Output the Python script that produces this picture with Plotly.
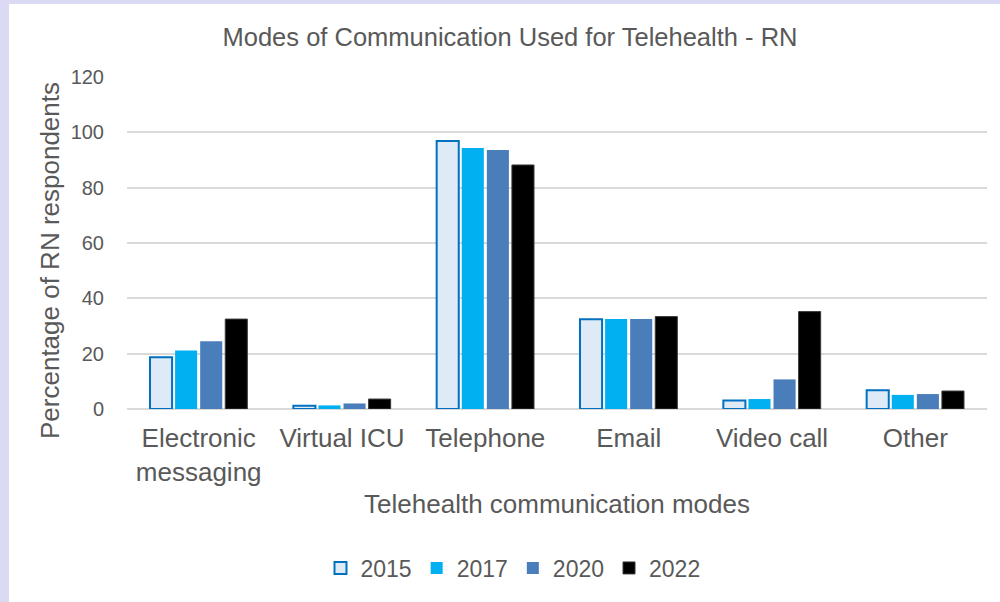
import plotly.graph_objects as go

modes = ["Electronic<br>messaging", "Virtual ICU", "Telephone", "Email", "Video call", "Other"]
years = ["2015", "2017", "2020", "2022"]

pct_2015 = [18.7, 1.2, 96.9, 32.4, 3.1, 6.8]
pct_2017 = [21.1, 1.3, 94.3, 32.5, 3.6, 5.1]
pct_2020 = [24.5, 2.0, 93.6, 32.5, 10.7, 5.4]
pct_2022 = [32.5, 3.6, 88.2, 33.4, 35.2, 6.5]

series = [pct_2015, pct_2017, pct_2020, pct_2022]
fills = ["#DEEBF7", "#00B0F0", "#4A7EBB", "#000000"]
edges = ["#0070C0", "#00B0F0", "#4A7EBB", "#3a3a3a"]
edge_w = [2, 0, 0, 1]

GREY = "#595959"
FONT = "Liberation Sans, Arial, sans-serif"

fig = go.Figure()
for yr, vals, fc, lc, lw in zip(years, series, fills, edges, edge_w):
    fig.add_trace(go.Bar(
        x=modes, y=vals, name=yr,
        marker=dict(color=fc, line=dict(color=lc, width=lw)),
    ))

# page: lavender edge around a white card
L, R, T, B = 127, 13, 77, 193
W, H = 1000, 602
pw, ph = W - L - R, H - T - B
fig.add_shape(type="rect", xref="paper", yref="paper", layer="below",
              x0=(9 - L) / pw, x1=(W + 5 - L) / pw,
              y0=(H - B - (H + 5)) / ph, y1=(H - B - 4) / ph,
              fillcolor="white", line_width=0)

# y-axis title sits a bit below the plot centre in the original
fig.add_annotation(text="Percentage of RN respondents", textangle=-90,
                   xref="paper", yref="paper", showarrow=False,
                   x=(50 - L) / pw, y=(H - B - 261) / ph,
                   xanchor="center", yanchor="middle",
                   font=dict(size=26, color=GREY))

fig.update_layout(
    width=W, height=H,
    margin=dict(l=L, r=R, t=T, b=B),
    paper_bgcolor="#DADAF4",
    plot_bgcolor="white",
    barmode="group", bargap=0.30, bargroupgap=0.12,
    font=dict(family=FONT, color=GREY),
    title=dict(text="Modes of Communication Used for Telehealth - RN",
               x=510 / W, xanchor="center", y=1 - 37 / H, yanchor="middle",
               font=dict(size=25.5, color=GREY)),
    legend=dict(orientation="h", x=(513 - L) / pw,
                xanchor="center", y=(H - B - 568) / ph, yanchor="middle",
                font=dict(size=23, color=GREY), traceorder="normal",
                itemwidth=30, bgcolor="rgba(0,0,0,0)"),
    showlegend=True,
)

fig.update_yaxes(range=[0, 120], dtick=20, showgrid=True, gridcolor="#D9D9D9", gridwidth=1.5,
                 zeroline=True, zerolinecolor="#D9D9D9", zerolinewidth=1.5,
                 tickfont=dict(size=20, color=GREY), ticklabelstandoff=22)
fig.update_xaxes(showline=False, tickfont=dict(size=26, color=GREY), ticklabelstandoff=11,
                 title=dict(text="Telehealth communication modes", font=dict(size=26, color=GREY),
                            standoff=9))

fig.write_html("out.html", config={"displayModeBar": False},
               post_script="document.body.style.margin='0';")
